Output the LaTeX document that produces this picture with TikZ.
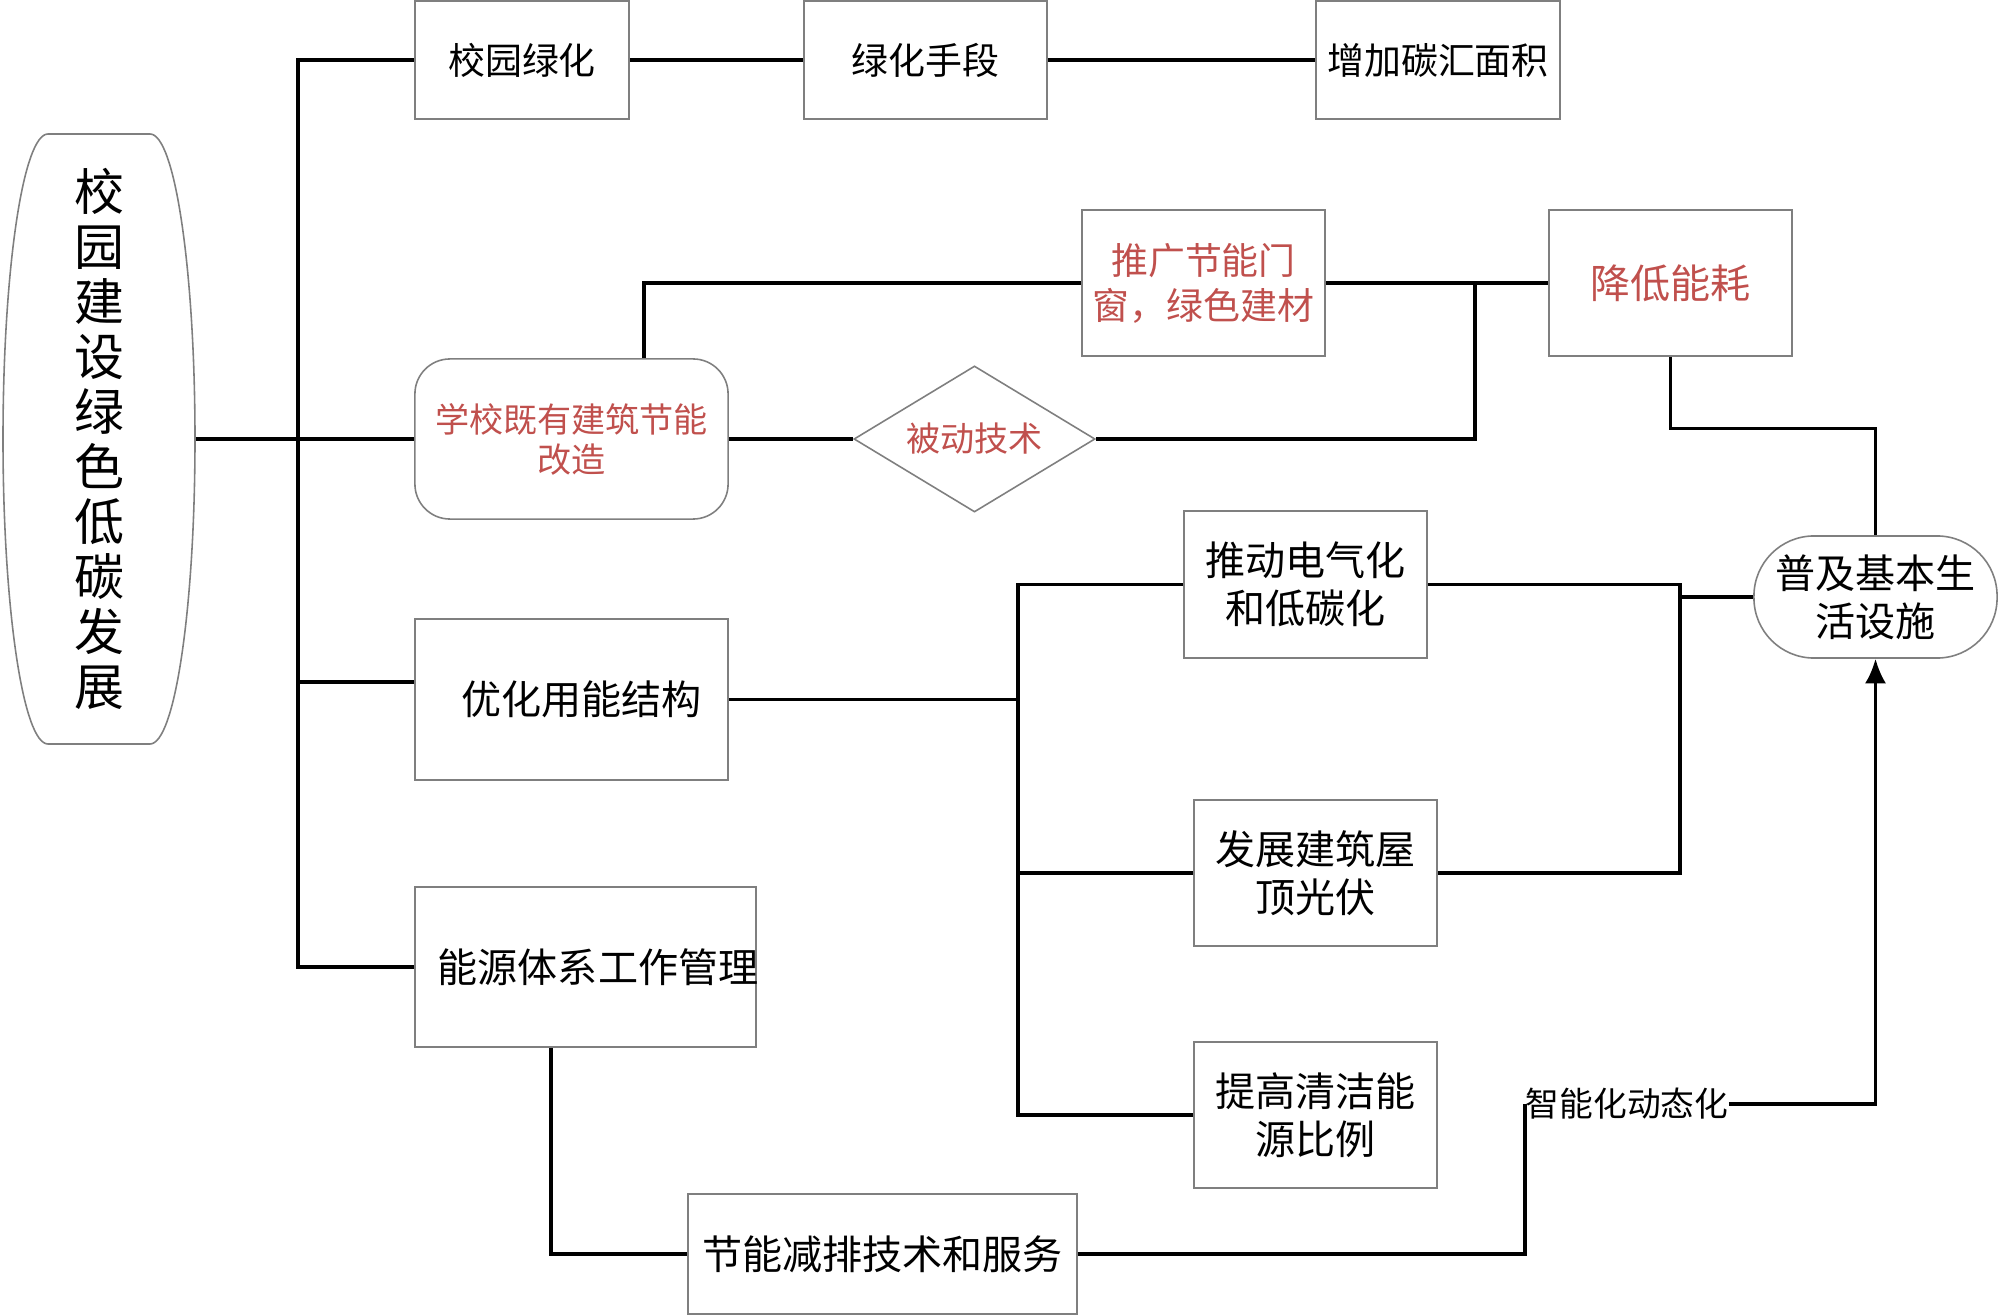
\documentclass[tikz,border=0pt]{standalone}
\usepackage{fontspec}
\setmainfont{Noto Sans CJK SC}
\usetikzlibrary{shapes.geometric,arrows.meta,calc}
\definecolor{vred}{HTML}{C0504D}
\definecolor{bord}{HTML}{7F7F7F}
\newcommand{\myfs}[2]{\fontsize{#1}{#2}\selectfont}
\begin{document}
\begin{tikzpicture}[x=0.01cm,y=-0.01cm,
  box/.style={draw=bord, line width=0.45pt, inner sep=0pt, align=center, text=black},
  conn/.style={line width=0.9pt, draw=black},
  fa/.style={font=\myfs{11.4}{13.7}},
  fb/.style={font=\myfs{10.5}{12.8}},
  fc/.style={font=\myfs{9.7}{11.4}},
  redtxt/.style={text=vred}]
\useasboundingbox (0,0) rectangle (2000,1316);

% root
\node[inner sep=0pt, minimum width=1.92cm, minimum height=6.10cm, align=center,
      font=\myfs{14.2}{15.65}] (root) at (99,439)
  {校\\园\\建\\设\\绿\\色\\低\\碳\\发\\展};
\begin{scope}[shift={(root.center)}]
\draw[draw=bord, line width=0.45pt] (-51,-305) -- (51,-305)
  .. controls (76,-305) and (96,-168) .. (96,0)
  .. controls (96,168) and (76,305) .. (51,305)
  -- (-51,305)
  .. controls (-76,305) and (-96,168) .. (-96,0)
  .. controls (-96,-168) and (-76,-305) .. (-51,-305) -- cycle;
\end{scope}

% top row
\node[box, fb, minimum width=2.14cm, minimum height=1.18cm] (lh) at (522,60) {校园绿化};
\node[box, fb, minimum width=2.43cm, minimum height=1.18cm] (ls) at (925.5,60) {绿化手段};
\node[box, fb, minimum width=2.44cm, minimum height=1.18cm] (zj) at (1438,60) {增加碳汇面积};

% building retrofit row
\node[box, fc, redtxt, rounded corners=0.35cm, minimum width=3.13cm, minimum height=1.60cm] (sch) at (571.5,439) {学校既有建筑节能\\改造};
\node[box, fb, redtxt, minimum width=2.43cm, minimum height=1.46cm] (tg) at (1203.5,283) {推广节能门\\窗，绿色建材};
\node[box, fa, redtxt, minimum width=2.43cm, minimum height=1.46cm] (jd) at (1670.5,283) {降低能耗};
\node[box, fc, redtxt, diamond, aspect=1.65, minimum width=2.41cm, minimum height=1.46cm] (bd) at (974.5,439) {被动技术};

% energy structure
\node[box, fa, minimum width=3.13cm, minimum height=1.61cm] (yh) at (571.5,699.5) {\hspace{0.2cm}优化用能结构};
\node[box, fa, minimum width=2.43cm, minimum height=1.47cm] (td) at (1305.5,584.5) {推动电气化\\和低碳化};
\node[box, fa, minimum width=2.43cm, minimum height=1.46cm] (fz) at (1315.5,873) {发展建筑屋\\顶光伏};
\node[box, fa, minimum width=2.43cm, minimum height=1.46cm] (tq) at (1315.5,1115) {提高清洁能\\源比例};
\node[box, fa, rounded corners=0.6cm, minimum width=2.43cm, minimum height=1.22cm] (pj) at (1875.5,597) {普及基本生\\活设施};

% management
\node[box, fa, minimum width=3.41cm, minimum height=1.60cm] (ny) at (585.5,967) {\makebox[0pt]{\hspace{0.25cm}能源体系工作管理}};
\node[box, fa, minimum width=3.89cm, minimum height=1.20cm] (jj) at (882.5,1254) {节能减排技术和服务};
\node[inner sep=0pt, anchor=west, font=\myfs{9.6}{11}] (lab) at (1525,1104) {智能化动态化};

% junction points
\coordinate (tr) at (298,439);
\coordinate (j1) at (1475,283);
\coordinate (j2) at (1018,699.5);
\coordinate (j3) at (1680,597);

% connectors
\draw[conn] (root.east) -- (sch.west);
\draw[conn] (lh.west) -| (tr);
\draw[conn] ($(yh.west)+(0,-17.5)$) -| (tr);
\draw[conn] (ny.west) -| (tr);
\draw[conn] (lh.east) -- (ls.west);
\draw[conn] (ls.east) -- (zj.west);

\draw[conn] (sch.east) -- (bd.west);
\draw[conn] ($(sch.north)+(72.5,0)$) |- (tg.west);
\draw[conn] (tg.east) -- (jd.west);
\draw[conn] (bd.east) -| (j1);
\draw[conn] (jd.south) -- ++(0,72) -| (pj.north);

\draw[conn] (yh.east) -- (j2);
\draw[conn] (td.west) -| (j2);
\draw[conn] (tq.west) -| (j2);
\draw[conn] (fz.west) -- (fz.west -| j2);
\draw[conn] (td.east) -| (j3);
\draw[conn] (fz.east) -| (j3);
\draw[conn] (j3) -- (pj.west);

\draw[conn] ($(ny.south)+(-34.5,0)$) |- (jj.west);
\draw[conn] (jj.east) -| (lab.west);
\draw[conn, -{Latex[length=7pt,width=6pt]}] (lab.east) -| (pj.south);
\end{tikzpicture}
\end{document}
